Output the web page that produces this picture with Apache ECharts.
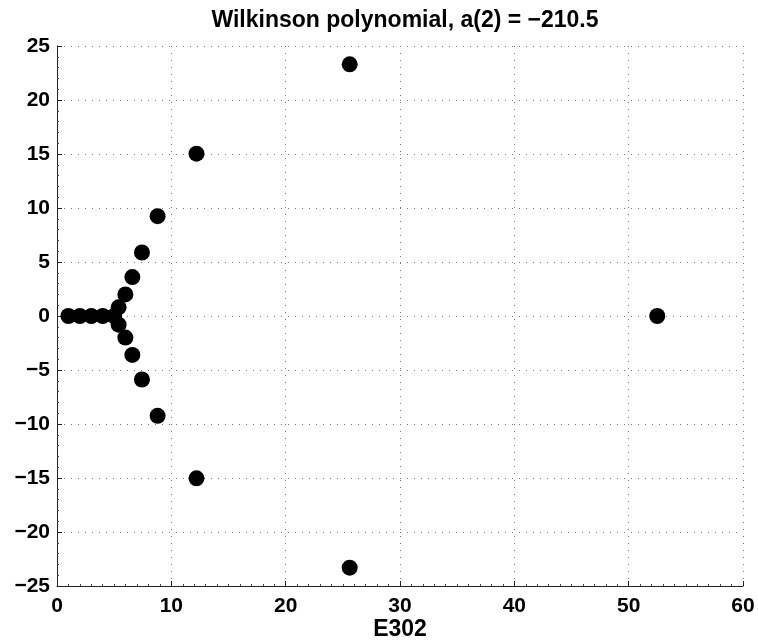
<!DOCTYPE html>
<html>
<head>
<meta charset="utf-8">
<script src="https://cdn.jsdelivr.net/npm/echarts@6/dist/echarts.min.js"></script>
<style>html,body{margin:0;padding:0;background:#fff;}#c{width:758px;height:641px;}</style>
</head>
<body>
<div id="c"></div>
<script>
var titleText = 'Wilkinson polynomial, a(2) = \u2212210.5';
var xAxisName = 'E302';
var realParts = [1, 2, 3, 4, 5, 5.39, 5.39, 5.98, 5.98, 6.59, 6.59, 7.43, 7.43, 8.80, 8.80, 12.2, 12.2, 25.6, 25.6, 52.5];
var imagParts = [0, 0, 0, 0, 0, 0.8, -0.8, 2.0, -2.0, 3.6, -3.6, 5.88, -5.88, 9.24, -9.24, 15.03, -15.03, 23.3, -23.3, 0];

var pts = realParts.map(function (x, i) { return [x, imagParts[i]]; });
var font = 'Liberation Sans, Arial, sans-serif';
function fmt(v) { return v < 0 ? '\u2212' + Math.abs(v) : String(v); }
var gridLine = { show: true, lineStyle: { color: '#777', width: 1, type: [1, 6] } };

var chart = echarts.init(document.getElementById('c'));
chart.setOption({
  animation: false,
  title: {
    text: titleText, left: 400, top: 4, textAlign: 'center',
    textStyle: { fontFamily: font, fontWeight: 'bold', fontSize: 23, color: '#000' }
  },
  grid: { left: 57, right: 15, top: 46, bottom: 55, containLabel: false, outerBoundsMode: 'none' },
  xAxis: {
    type: 'value', min: 0, max: 60, interval: 10,
    name: xAxisName, nameLocation: 'middle', nameGap: 32, nameMoveOverlap: false,
    nameTextStyle: { fontFamily: font, fontWeight: 'bold', fontSize: 23, color: '#000' },
    axisLine: { show: true, onZero: false, lineStyle: { color: '#222', width: 1 } },
    axisTick: { show: true, inside: true, length: 5, lineStyle: { color: '#222' } },
    minorTick: { show: true, splitNumber: 10, length: 2, lineStyle: { color: '#444' } },
    axisLabel: { fontFamily: font, fontWeight: 'bold', fontSize: 21, color: '#000', margin: 10, formatter: fmt },
    splitLine: gridLine
  },
  yAxis: {
    type: 'value', min: -25, max: 25, interval: 5,
    axisLine: { show: true, onZero: false, lineStyle: { color: '#222', width: 1 } },
    axisTick: { show: true, inside: true, length: 5, lineStyle: { color: '#222' } },
    minorTick: { show: true, splitNumber: 5, length: 2, lineStyle: { color: '#444' } },
    axisLabel: { fontFamily: font, fontWeight: 'bold', fontSize: 21, color: '#000', margin: 7, formatter: fmt },
    splitLine: gridLine
  },
  series: [{
    type: 'scatter', data: pts, symbol: 'circle', symbolSize: 16,
    itemStyle: { color: '#000', opacity: 1 }
  }]
});
</script>
</body>
</html>
